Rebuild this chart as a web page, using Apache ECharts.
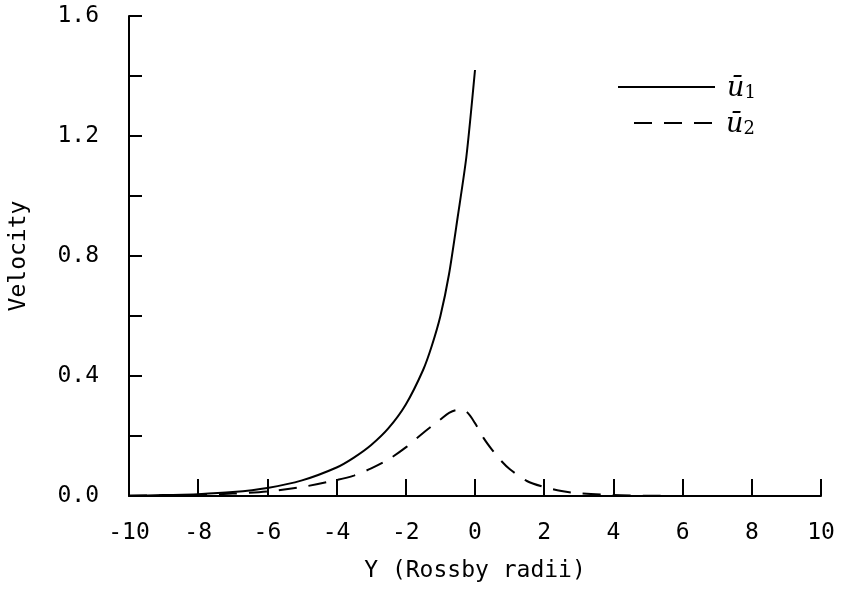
<!DOCTYPE html>
<html>
<head>
<meta charset="utf-8">
<script src="https://cdn.jsdelivr.net/npm/echarts@6/dist/echarts.min.js"></script>
<style>
html,body{margin:0;padding:0;background:#fff;}
#chart{width:852px;height:590px;}
</style>
</head>
<body>
<div id="chart"></div>
<script>
// Upper layer mean velocity (solid)
var u1X = [-10, -9, -8, -7, -6, -5, -4, -3.5, -3, -2.5, -2, -1.5, -1.25, -1, -0.75, -0.5, -0.25, 0];
var u1Y = [0.001, 0.003, 0.006, 0.013, 0.027, 0.052, 0.095, 0.128, 0.17, 0.226, 0.305, 0.42, 0.5, 0.6, 0.74, 0.93, 1.13, 1.42];
// Lower layer mean velocity (dashed)
var u2X = [-10, -9, -8, -7, -6, -5, -4, -3.5, -3, -2.5, -2, -1.5, -1, -0.75, -0.5, -0.25, 0, 0.25, 0.5, 0.75, 1, 1.5, 2, 2.5, 3, 4, 5, 6, 8, 10];
var u2Y = [0.001, 0.002, 0.004, 0.008, 0.015, 0.03, 0.053, 0.068, 0.092, 0.122, 0.162, 0.21, 0.255, 0.277, 0.287, 0.281, 0.243, 0.193, 0.153, 0.118, 0.09, 0.05, 0.03, 0.017, 0.009, 0.003, 0.001, 0, 0, 0];
var xTicks = [-10, -8, -6, -4, -2, 0, 2, 4, 6, 8, 10];
var yLabelTicks = [0.0, 0.4, 0.8, 1.2, 1.6];
var seriesNames = ['u1', 'u2'];

function pairs(xs, ys){ return xs.map(function(x,i){ return [x, ys[i]]; }); }

var chart = echarts.init(document.getElementById('chart'), null, {renderer:'canvas'});
var mono = '"DejaVu Sans Mono", "Liberation Mono", monospace';
var legendRich = {
  u: {fontFamily: '"DejaVu Serif","Liberation Serif",serif', fontStyle: 'italic', fontSize: 27, color: '#000', verticalAlign: 'bottom', lineHeight: 30, padding: [0,0,0,7]},
  s: {fontFamily: '"DejaVu Serif","Liberation Serif",serif', fontSize: 18, color: '#000', verticalAlign: 'bottom', lineHeight: 26}
};
function legendFmt(name){ return '{u|ū}{s|' + name.slice(1) + '}'; }
var legendCommon = {itemHeight: 14, itemGap: 0, formatter: legendFmt,
  textStyle: {rich: legendRich}, itemStyle: {opacity: 0, borderWidth: 0}, selectedMode: false};

chart.setOption({
  animation: false,
  backgroundColor: '#fff',
  grid: {left: 124, right: 31, top: 16, bottom: 94, containLabel: false},
  legend: [
    Object.assign({data: [seriesNames[0]], left: 612, top: 70, itemWidth: 97}, legendCommon),
    Object.assign({data: [seriesNames[1]], left: 628, top: 106, itemWidth: 80}, legendCommon)
  ],
  xAxis: {
    type: 'value', min: xTicks[0], max: xTicks[xTicks.length-1], interval: 2,
    name: 'Y (Rossby radii)', nameLocation: 'middle', nameGap: 64,
    nameTextStyle: {fontFamily: mono, fontSize: 23, color: '#000'},
    axisLine: {show: true, onZero: false, lineStyle: {color: '#000', width: 2}},
    axisTick: {show: true, inside: true, length: 17, lineStyle: {color: '#000', width: 2}},
    axisLabel: {fontFamily: mono, fontSize: 23, color: '#000', margin: 26,
      formatter: function(v){ return xTicks.indexOf(v) >= 0 ? String(v) : ''; }},
    splitLine: {show: false}
  },
  yAxis: {
    type: 'value', min: 0, max: 1.6, interval: 0.2,
    name: 'Velocity', nameLocation: 'middle', nameGap: 98,
    nameTextStyle: {fontFamily: mono, fontSize: 23, color: '#000'},
    axisLine: {show: true, onZero: false, lineStyle: {color: '#000', width: 2}},
    axisTick: {show: true, inside: true, length: 13, lineStyle: {color: '#000', width: 2}},
    axisLabel: {fontFamily: mono, fontSize: 23, color: '#000', margin: 30,
      formatter: function(v){
        for (var i=0;i<yLabelTicks.length;i++){ if (Math.abs(v-yLabelTicks[i])<1e-6) return yLabelTicks[i].toFixed(1); }
        return '';
      }},
    splitLine: {show: false}
  },
  series: [
    {name: seriesNames[0], type: 'line', data: pairs(u1X, u1Y), symbol: 'none', smooth: 0.25,
     lineStyle: {color: '#000', width: 2, type: 'solid'}, itemStyle: {color: '#000'}},
    {name: seriesNames[1], type: 'line', data: pairs(u2X, u2Y), symbol: 'none', smooth: 0.3,
     lineStyle: {color: '#000', width: 2, type: [18, 12]}, itemStyle: {color: '#000'}}
  ]
});
</script>
</body>
</html>
